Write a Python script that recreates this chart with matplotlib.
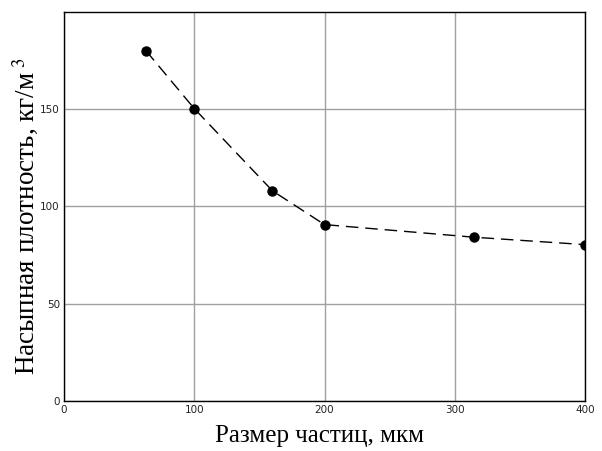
import matplotlib.pyplot as plt

# размер частиц, мкм / насыпная плотность, кг/м3
size_um = [63, 100, 160, 200, 315, 400]
density = [180, 150.3, 108, 90.6, 84.1, 80.3]

x_ticks = [0, 100, 200, 300, 400]
y_ticks = [0, 50, 100, 150]

plt.rcParams['mathtext.fontset'] = 'stix'

fig = plt.figure(figsize=(6.02, 4.51), dpi=100)
ax = fig.add_axes([0.1063, 0.1115, 0.8655, 0.862])

ax.plot(size_um, density, color='black', lw=1, dashes=(9, 5),
        marker='o', markersize=6.5, zorder=3)

ax.set_xlim(0, 400)
ax.set_ylim(0, 200)
ax.set_xticks(x_ticks)
ax.set_yticks(y_ticks)
ax.grid(True, color='#a0a0a0', lw=1)
ax.set_axisbelow(True)
ax.tick_params(length=0, labelsize=7.5, pad=3, colors='#222222')
for s in ax.spines.values():
    s.set_color('black')
    s.set_linewidth(1)

ax.set_xlabel('Размер частиц, мкм', fontfamily='Liberation Serif', fontsize=18)
ax.set_ylabel('Насыпная плотность, кг/м$^{\\ 3}$', fontfamily='Liberation Serif', fontsize=19.5)
ax.xaxis.set_label_coords(0.49, -0.063)
ax.yaxis.set_label_coords(-0.045, 0.475)

fig.savefig('out.png', dpi=100)
